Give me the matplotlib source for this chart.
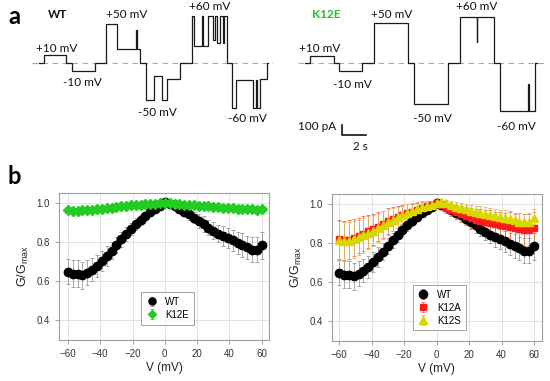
import matplotlib
matplotlib.use("Agg")
import matplotlib.pyplot as plt
import numpy as np

# ---- panel a: single-channel traces (time in s, current in pA) ----
wt_levels = [0, 77, 0, -77, 0, 393, 143, 330, 143, 0, -373, -133, -373, -157, 0,
             473, 173, 473, 173, 473, 230, 473, 200, 473, 200, 473, 0,
             -450, -167, -450, -167, -450, -160, 0]
wt_durations = [0.42, 1.86, 0.5, 1.89, 0.97, 0.89, 1.58, 0.08, 0.28, 0.47, 0.69, 0.64, 0.47, 1.06, 0.97,
                0.14, 0.69, 0.11, 0.44, 0.42, 0.14, 0.19, 0.22, 0.22, 0.11, 0.22, 0.47,
                0.31, 1.39, 0.28, 0.11, 0.22, 0.56, 0.14]
k12e_levels = [0, 73, 0, -80, 0, 400, 0, -413, 0, 463, 213, 463, 0, -480, -210, -480, 0]
k12e_durations = [0.47, 1.94, 0.44, 1.94, 0.97, 2.83, 0.5, 2.83, 0.97, 1.39, 0.06, 1.42, 0.47,
                  2.36, 0.08, 0.47, 0.14]
trace_start = 0.56
wt_trace_len = 20.1
k12e_trace_len = 20.7

# ---- panel b: normalised conductance ----
voltage = np.arange(-60, 61, 3)
wt_g = [0.650, 0.640, 0.640, 0.632, 0.645, 0.660, 0.680, 0.705, 0.730, 0.758, 0.787,
        0.815, 0.843, 0.870, 0.893, 0.915, 0.935, 0.955, 0.972, 0.988, 1.005,
        0.995, 0.985, 0.972, 0.958, 0.943, 0.927, 0.910, 0.893, 0.876, 0.860,
        0.845, 0.832, 0.822, 0.810, 0.798, 0.786, 0.775, 0.762, 0.762, 0.785]
wt_err = [0.065, 0.07, 0.07, 0.07, 0.065, 0.06, 0.055, 0.05, 0.05, 0.045, 0.04,
          0.04, 0.035, 0.03, 0.03, 0.025, 0.02, 0.02, 0.015, 0.01, 0.01,
          0.012, 0.015, 0.02, 0.025, 0.03, 0.03, 0.035, 0.04, 0.04, 0.045,
          0.045, 0.05, 0.05, 0.055, 0.055, 0.06, 0.06, 0.065, 0.065, 0.07]
k12e_g = [0.965, 0.963, 0.962, 0.965, 0.966, 0.968, 0.970, 0.972, 0.975, 0.978, 0.982,
          0.985, 0.988, 0.990, 0.992, 0.994, 0.995, 0.997, 0.998, 1.000, 1.002,
          1.000, 0.998, 0.996, 0.994, 0.992, 0.990, 0.988, 0.986, 0.984, 0.982,
          0.980, 0.978, 0.976, 0.974, 0.972, 0.971, 0.970, 0.969, 0.968, 0.970]
k12e_err = [0.014, 0.013, 0.013, 0.012, 0.012, 0.012, 0.011, 0.011, 0.011, 0.010, 0.010,
            0.010, 0.009, 0.009, 0.008, 0.008, 0.007, 0.007, 0.006, 0.006, 0.005,
            0.006, 0.006, 0.007, 0.007, 0.008, 0.008, 0.009, 0.009, 0.010, 0.010,
            0.010, 0.011, 0.011, 0.011, 0.012, 0.012, 0.012, 0.013, 0.013, 0.014]
k12a_g = [0.820, 0.815, 0.818, 0.828, 0.840, 0.850, 0.862, 0.872, 0.885, 0.898, 0.915,
          0.925, 0.935, 0.945, 0.955, 0.962, 0.972, 0.982, 0.990, 0.998, 1.005,
          0.995, 0.982, 0.970, 0.960, 0.950, 0.940, 0.930, 0.922, 0.915, 0.910,
          0.904, 0.898, 0.893, 0.888, 0.884, 0.878, 0.874, 0.868, 0.870, 0.880]
k12a_err = [0.10, 0.10, 0.10, 0.095, 0.09, 0.09, 0.085, 0.08, 0.075, 0.07, 0.065,
            0.06, 0.055, 0.05, 0.045, 0.04, 0.035, 0.03, 0.025, 0.02, 0.015,
            0.02, 0.025, 0.03, 0.035, 0.04, 0.045, 0.05, 0.055, 0.06, 0.06,
            0.065, 0.065, 0.07, 0.07, 0.075, 0.075, 0.08, 0.08, 0.08, 0.08]
k12s_g = [0.817, 0.812, 0.810, 0.822, 0.832, 0.842, 0.855, 0.866, 0.880, 0.895, 0.910,
          0.922, 0.933, 0.944, 0.955, 0.965, 0.975, 0.985, 0.992, 0.998, 1.005,
          1.012, 1.005, 0.995, 0.988, 0.980, 0.974, 0.968, 0.962, 0.956, 0.953,
          0.947, 0.940, 0.935, 0.930, 0.924, 0.918, 0.912, 0.910, 0.912, 0.932]
k12s_err = [0.10, 0.10, 0.10, 0.095, 0.09, 0.09, 0.085, 0.08, 0.075, 0.07, 0.065,
            0.06, 0.055, 0.05, 0.045, 0.04, 0.035, 0.03, 0.025, 0.02, 0.015,
            0.015, 0.018, 0.02, 0.022, 0.025, 0.028, 0.03, 0.032, 0.035, 0.035,
            0.035, 0.038, 0.038, 0.04, 0.04, 0.04, 0.042, 0.042, 0.045, 0.045]

W, H = 550, 381
TRACE_FONT = ["Lato", "DejaVu Sans"]
AXES_FONT = ["Liberation Sans", "DejaVu Sans"]


def px(x, y):
    """Pixel position (from top-left) to figure fraction."""
    return x / W, 1 - y / H


def draw_trace(ax, levels, durations, total):
    t = trace_start + np.concatenate([[0], np.cumsum(durations)])
    lv = list(levels) + [levels[-1]]
    ax.plot([0, total], [0, 0], color="#aaaaaa", lw=0.8, ls=(0, (5, 4)))
    ax.plot(t, lv, drawstyle="steps-post", color="#1a1a1a", lw=0.9)
    ax.set_xlim(0, total)
    ax.set_ylim(-770, 630)
    ax.axis("off")


def style_axes(ax, xlim):
    ax.set_xlim(*xlim)
    ax.set_ylim(0.30, 1.053)
    ax.set_xticks([-60, -40, -20, 0, 20, 40, 60])
    ax.set_yticks([0.4, 0.6, 0.8, 1.0])
    ax.set_yticklabels(["0.4", "0.6", "0.8", "1.0"])
    ax.grid(True, color="#e2e2e2", lw=0.7)
    ax.set_axisbelow(True)
    for s in ax.spines.values():
        s.set_color("#a0a0a0")
        s.set_linewidth(0.8)
    ax.tick_params(colors="#a0a0a0", labelcolor="#333333", labelsize=7, length=3, width=0.7)
    for lab in ax.get_xticklabels() + ax.get_yticklabels():
        lab.set_family(AXES_FONT)
    ax.set_xlabel("V (mV)", fontsize=8.5, family=AXES_FONT, color="#222222", labelpad=2)
    ax.set_ylabel(r"G/G$_\mathregular{max}$", fontsize=9, family=AXES_FONT, color="#222222", labelpad=4)


def errplot(ax, y, err, marker, color, ecolor, ms, label):
    ax.errorbar(voltage, y, yerr=err, fmt=marker, color=color, mec=color, ms=ms,
                ecolor=ecolor, elinewidth=0.6, capsize=1.3, capthick=0.6, label=label, zorder=3)


def main():
    fig = plt.figure(figsize=(5.5, 3.81), dpi=100)

    # panel a
    ax1 = fig.add_axes([32 / W, 1 - 140 / H, 241 / W, 140 / H])
    draw_trace(ax1, wt_levels, wt_durations, wt_trace_len)
    ax2 = fig.add_axes([298 / W, 1 - 140 / H, 249 / W, 140 / H])
    draw_trace(ax2, k12e_levels, k12e_durations, k12e_trace_len)
    # scale bar (100 pA, 2 s)
    ax2.plot([3.67, 3.67, 5.67], [-620, -720, -720], color="#111111", lw=1.2, clip_on=False)

    fig.text(*px(14, 16), "a", fontsize=17, fontweight="bold", family=TRACE_FONT, ha="center", va="center")
    fig.text(*px(14, 176), "b", fontsize=17, fontweight="bold", family=TRACE_FONT, ha="center", va="center")

    kw = dict(fontsize=8.5, family=TRACE_FONT, ha="center", va="center", color="#111111")
    fig.text(*px(58, 15), "WT", fontweight="bold", **kw)
    fig.text(*px(326, 15), "K12E", fontweight="bold", **{**kw, "color": "#22c422"})
    wt_labels = [(57, 48, "+10 mV"), (82, 82, "-10 mV"), (127, 15, "+50 mV"),
                 (157, 113, "-50 mV"), (210, 7, "+60 mV"), (247, 118, "-60 mV")]
    k12e_labels = [(320, 48, "+10 mV"), (352, 84, "-10 mV"), (392, 15, "+50 mV"),
                   (432, 118, "-50 mV"), (477, 7, "+60 mV"), (516, 126, "-60 mV")]
    for x, y, s in wt_labels + k12e_labels:
        fig.text(*px(x, y), s, **kw)
    fig.text(*px(317, 127), "100 pA", **kw)
    fig.text(*px(360, 147), "2 s", **kw)

    # panel b
    axl = fig.add_axes([59 / W, 1 - 340 / H, 210 / W, 147 / H])
    errplot(axl, wt_g, wt_err, "o", "#000000", "#999999", 6, "WT")
    errplot(axl, k12e_g, k12e_err, "D", "#22cc22", "#55bb55", 5.3, "K12E")
    style_axes(axl, (-65.5, 64.5))
    leg = axl.legend(loc="upper left", bbox_to_anchor=(0.367, 0.36), frameon=True, fancybox=False,
                     edgecolor="#8a8a8a", prop={"family": AXES_FONT, "size": 7},
                     handletextpad=0.8, borderpad=0.5, labelspacing=0.3, handlelength=1.2,
                     markerscale=0.85)
    leg.get_frame().set_linewidth(0.7)

    axr = fig.add_axes([331.7 / W, 1 - 341 / H, 210 / W, 147 / H])
    errplot(axr, wt_g, wt_err, "o", "#000000", "#999999", 6, "WT")
    errplot(axr, k12a_g, k12a_err, "s", "#ff1a1a", "#e8704a", 5, "K12A")
    errplot(axr, k12s_g, k12s_err, "^", "#d8d800", "#eab060", 5.5, "K12S")
    style_axes(axr, (-64.5, 64.7))
    leg = axr.legend(loc="upper left", bbox_to_anchor=(0.363, 0.415), frameon=True, fancybox=False,
                     edgecolor="#8a8a8a", prop={"family": AXES_FONT, "size": 7},
                     handletextpad=0.8, borderpad=0.5, labelspacing=0.3, handlelength=1.2)
    leg.get_frame().set_linewidth(0.7)

    fig.savefig("out.png", dpi=100)


if __name__ == "__main__":
    main()
